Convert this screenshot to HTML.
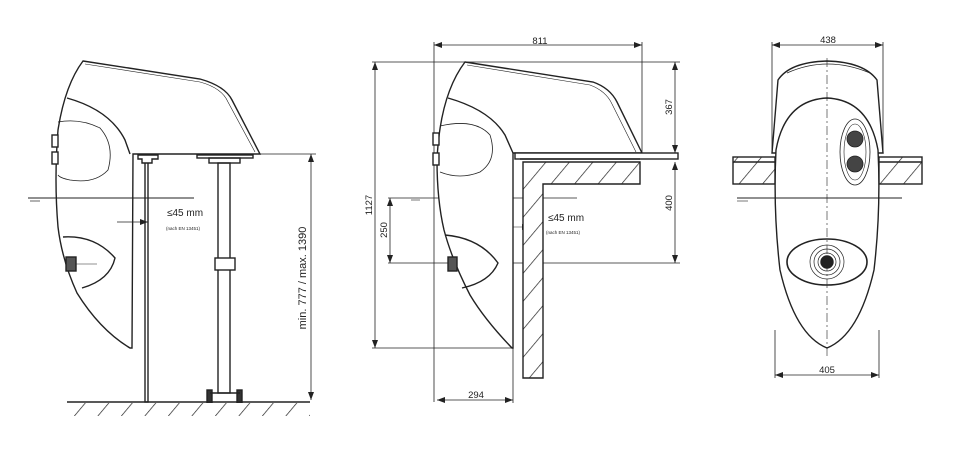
<!DOCTYPE html>
<html><head><meta charset="utf-8"><style>
html,body{margin:0;padding:0;background:#fff;}
svg{display:block;}
text{font-family:"Liberation Sans",sans-serif;fill:#222;}
</style></head><body>
<svg width="960" height="457" viewBox="0 0 960 457" xmlns="http://www.w3.org/2000/svg">
<defs>
<pattern id="h" width="18" height="18" patternUnits="userSpaceOnUse" patternTransform="rotate(40)">
<rect width="18" height="18" fill="#fff"/><line x1="0" y1="0" x2="0" y2="18" stroke="#222" stroke-width="1.4"/>
</pattern>
<marker id="a" markerWidth="8" markerHeight="6" refX="8" refY="3" orient="auto-start-reverse" markerUnits="userSpaceOnUse"><path d="M0,0 L8,3 L0,6z" fill="#222"/></marker>
</defs>
<g fill="none" stroke="#222" stroke-width="1.4">
<!-- PANEL 1 -->
<path d="M83,61 L200,79 Q225,86 232,100 L260,154 L133,154 L132,348 L130,348 Q100,330 77,293 Q62,260 58,227 Q54,180 58,130 Q65,85 83,61Z" fill="#fff"/>
<path d="M85,64 L200,82 Q222,88 228,102 L255,152" stroke-width="0.6"/>
<path d="M67,98 Q110,110 125,140 L130,154"/>
<path d="M58,122 Q80,118 100,128 Q115,145 108,170 Q95,184 70,180 Q60,178 58,175" stroke-width="0.8"/>
<path d="M63,237 Q95,235 115,258 Q110,280 82,288" />
<rect x="52" y="135" width="6" height="12" fill="#fff"/><rect x="52" y="152" width="6" height="12" fill="#fff"/>
<rect x="66" y="257" width="10" height="14" fill="#555"/>
<line x1="76" y1="264" x2="97" y2="264" stroke-width="0.6"/>
<rect x="145" y="157" width="3" height="245" fill="#fff"/>
<path d="M138,155 L158,155 L158,159 L152,159 L152,163 L142,163 L142,159 L138,159Z" fill="#fff"/>
<rect x="197" y="155" width="56" height="3"/>
<rect x="209" y="158" width="31" height="5"/>
<rect x="218" y="163" width="12" height="230"/>
<rect x="215" y="258" width="20" height="12" fill="#fff"/>
<rect x="207" y="390" width="5" height="20" fill="#333"/><rect x="237" y="390" width="5" height="20" fill="#333"/>
<line x1="210" y1="393" x2="240" y2="393"/>
<line x1="67" y1="402" x2="310" y2="402"/>
<rect x="67" y="403" width="243" height="13" fill="url(#h)" stroke="none"/>
<line x1="28" y1="198" x2="194" y2="198" stroke-width="1"/>
<line x1="30" y1="201" x2="40" y2="201" stroke-width="0.7"/>
<line x1="117" y1="222" x2="148" y2="222" stroke-width="0.7" marker-end="url(#a)"/>
<line x1="260" y1="154" x2="316" y2="154" stroke-width="0.7"/>
<line x1="311" y1="154" x2="311" y2="400" stroke-width="0.8" marker-start="url(#a)" marker-end="url(#a)"/>

<!-- PANEL 2 -->
<g stroke-width="0.8">
<line x1="434" y1="45" x2="642" y2="45" marker-start="url(#a)" marker-end="url(#a)"/>
<line x1="434" y1="42" x2="434" y2="402"/><line x1="642" y1="42" x2="642" y2="153"/>
<line x1="375" y1="62" x2="375" y2="348" marker-start="url(#a)" marker-end="url(#a)"/>
<line x1="372" y1="62" x2="680" y2="62"/><line x1="372" y1="348" x2="513" y2="348"/>
<line x1="675" y1="62" x2="675" y2="153" marker-start="url(#a)" marker-end="url(#a)"/>
<line x1="675" y1="162" x2="675" y2="263" marker-start="url(#a)" marker-end="url(#a)"/>
<line x1="388" y1="263" x2="680" y2="263"/>
<line x1="390" y1="198" x2="390" y2="263" marker-start="url(#a)" marker-end="url(#a)"/>
<line x1="388" y1="198" x2="577" y2="198"/>
<line x1="411" y1="200" x2="420" y2="200" stroke-width="0.6"/>
<line x1="437" y1="400" x2="513" y2="400" marker-start="url(#a)" marker-end="url(#a)"/>
<line x1="513" y1="348" x2="513" y2="403"/>
<line x1="497" y1="227" x2="530" y2="227" stroke-width="0.6" marker-end="url(#a)"/>
</g>
<path d="M523,162 L640,162 L640,184 L543,184 L543,378 L523,378Z" fill="url(#h)"/>
<path d="M465,62 L593,82 Q610,88 617,102 L642,153 L513,153 L513,348 L512,348 Q485,320 470,295 Q452,260 444,230 Q437,200 437,160 Q440,95 465,62Z" fill="#fff"/>
<path d="M467,65 L590,85 Q606,91 612,104 L636,152" stroke-width="0.6"/>
<path d="M448,98 Q490,110 505,135 L513,153"/>
<path d="M440,126 Q475,118 490,135 Q498,160 480,172 Q460,180 440,172" stroke-width="0.8"/>
<path d="M445,235 Q480,238 498,263 Q490,282 462,288"/>
<rect x="433" y="133" width="6" height="12" fill="#fff"/><rect x="433" y="153" width="6" height="12" fill="#fff"/>
<rect x="448" y="257" width="9" height="14" fill="#555"/>
<rect x="515" y="153" width="163" height="6" fill="#fff"/>
<line x1="520" y1="159" x2="640" y2="159"/>

<!-- PANEL 3 -->
<g stroke-width="0.8">
<line x1="772" y1="45" x2="883" y2="45" marker-start="url(#a)" marker-end="url(#a)"/>
<line x1="772" y1="42" x2="772" y2="153"/><line x1="883" y1="42" x2="883" y2="153"/>
<line x1="775" y1="375" x2="879" y2="375" marker-start="url(#a)" marker-end="url(#a)"/>
<line x1="775" y1="330" x2="775" y2="378"/><line x1="879" y1="330" x2="879" y2="378"/>
</g>
<rect x="733" y="157" width="42" height="27" fill="url(#h)"/><line x1="733" y1="162" x2="775" y2="162"/>
<rect x="879" y="157" width="43" height="27" fill="url(#h)"/><line x1="879" y1="162" x2="922" y2="162"/>
<path d="M772,153 L778,80 Q790,62 827,61 Q864,62 877,80 L883,153Z" fill="#fff"/>
<path d="M787,73 Q827,55 870,73" stroke-width="0.7"/>
<path d="M827,98 Q785,100 776,150 Q773,210 780,270 Q795,335 827,348 Q859,335 874,270 Q881,210 878,150 Q869,100 827,98Z" fill="#fff"/>
<line x1="737" y1="198" x2="902" y2="198" stroke-width="1"/>
<line x1="737" y1="201" x2="748" y2="201" stroke-width="0.6"/>
<line x1="827" y1="58" x2="827" y2="356" stroke-width="0.6" stroke-dasharray="9,3,2,3"/>
<ellipse cx="855" cy="152" rx="15" ry="33" stroke-width="0.8"/>
<ellipse cx="855" cy="152" rx="11" ry="28" stroke-width="0.6"/>
<circle cx="855" cy="139" r="8" fill="#444" stroke-width="0.8"/><circle cx="855" cy="164" r="8" fill="#444" stroke-width="0.8"/>
<ellipse cx="827" cy="262" rx="40" ry="23" stroke-width="1.6"/>
<circle cx="827" cy="262" r="17" stroke-width="0.7"/>
<circle cx="827" cy="262" r="13" stroke-width="0.7"/>
<circle cx="827" cy="262" r="9" stroke-width="0.7"/>
<circle cx="827" cy="262" r="6" fill="#222"/>
</g>
<text x="167" y="216" font-size="10">≤45 mm</text>
<text x="166" y="230" font-size="4.5">(nach EN 13451)</text>
<text transform="translate(306,278) rotate(-90)" font-size="11" text-anchor="middle">min. 777 / max. 1390</text>
<text x="540" y="44" font-size="9.5" text-anchor="middle">811</text>
<text transform="translate(372,205) rotate(-90)" font-size="9.5" text-anchor="middle">1127</text>
<text transform="translate(672,107) rotate(-90)" font-size="9.5" text-anchor="middle">367</text>
<text transform="translate(672,203) rotate(-90)" font-size="9.5" text-anchor="middle">400</text>
<text transform="translate(387,230) rotate(-90)" font-size="9.5" text-anchor="middle">250</text>
<text x="476" y="398" font-size="9.5" text-anchor="middle">294</text>
<text x="548" y="221" font-size="10">≤45 mm</text>
<text x="546" y="234" font-size="4.5">(nach EN 13451)</text>
<text x="828" y="43" font-size="9.5" text-anchor="middle">438</text>
<text x="827" y="373" font-size="9.5" text-anchor="middle">405</text>
</svg>
</body></html>
